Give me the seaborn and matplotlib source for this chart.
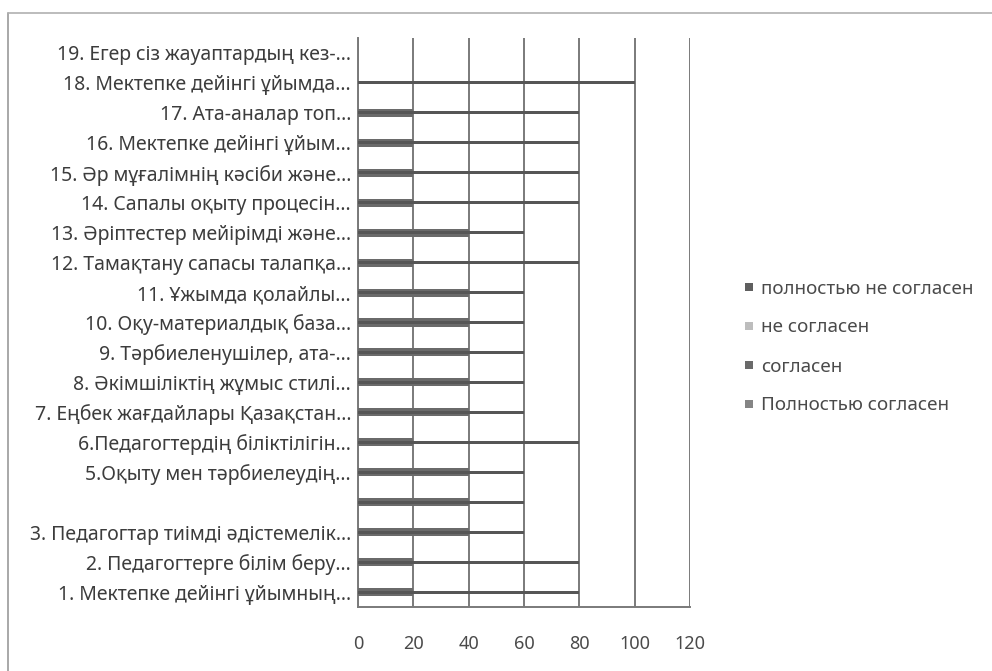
import pandas as pd
import numpy as np
import matplotlib
matplotlib.use("Agg")
import matplotlib.pyplot as plt
from matplotlib.lines import Line2D
import seaborn as sns

# Kategori pertanyaan (1 di bawah, 19 di atas)
pertanyaan = [
    "1. Мектепке дейінгі ұйымның...",
    "2. Педагогтерге білім беру...",
    "3. Педагогтар тиімді әдістемелік...",
    "",
    "5.Оқыту мен тәрбиелеудің...",
    "6.Педагогтердің біліктілігін...",
    "7. Еңбек жағдайлары Қазақстан...",
    "8. Әкімшіліктің жұмыс стилі...",
    "9. Тәрбиеленушілер, ата-...",
    "10. Оқу-материалдық база...",
    "11. Ұжымда қолайлы...",
    "12. Тамақтану сапасы талапқа...",
    "13. Әріптестер мейірімді және...",
    "14. Сапалы оқыту процесін...",
    "15. Әр мұғалімнің кәсіби және...",
    "16. Мектепке дейінгі ұйым...",
    "17. Ата-аналар топ...",
    "18. Мектепке дейінгі ұйымда...",
    "19. Егер сіз жауаптардың кез-...",
]

seri = ["полностью не согласен", "не согласен", "согласен", "Полностью согласен"]
warna = ["#5f5f5f", "#bdbdbd", "#6a6a6a", "#858585"]

polnostyu_ne = [0, 0, 0, 0, 0, 0, 0, 0, 0, 0, 0, 0, 0, 0, 0, 0, 0, 0, 0]
ne_soglasen = [0, 0, 0, 0, 0, 0, 0, 0, 0, 0, 0, 0, 0, 0, 0, 0, 0, 0, 0]
soglasen = [20, 20, 40, 40, 40, 20, 40, 40, 40, 40, 40, 20, 40, 20, 20, 20, 20, 0, 0]
polnostyu = [80, 80, 60, 60, 60, 80, 60, 60, 60, 60, 60, 80, 60, 80, 80, 80, 80, 100, 0]

nilai_x = [0, 20, 40, 60, 80, 100, 120]

baris = []
for nama, nilai in zip(seri, [polnostyu_ne, ne_soglasen, soglasen, polnostyu]):
    for label, v in zip(pertanyaan, nilai):
        baris.append({"label": label, "value": v, "series": nama})
df = pd.DataFrame(baris)

sns.set_style("white")
plt.rcParams["font.family"] = ["Noto Sans", "DejaVu Sans"]

fig = plt.figure(figsize=(9.92, 6.71), dpi=100)
ax = fig.add_axes([358 / 992, 1 - 607 / 671, (690 - 358) / 992, (607 - 38) / 671])

sns.barplot(
    data=df, y="label", x="value", hue="series",
    order=pertanyaan[::-1], hue_order=seri, palette=warna,
    dodge=False, width=0.27, linewidth=0, orient="h",
    legend=False, ax=ax, zorder=3,
)

# seri "Полностью согласен" tampil sebagai batang tipis di atas batang tebal
for patch in ax.containers[3]:
    cy = patch.get_y() + patch.get_height() / 2
    patch.set_height(0.1)
    patch.set_y(cy - 0.05)
    patch.set_facecolor("#565656")

ax.set_xlim(0, 120)
ax.set_xticks(nilai_x)
ax.set_xlabel("")
ax.set_ylabel("")
ax.xaxis.grid(True, color="#7a7a7a", linewidth=1.4, zorder=0)
ax.yaxis.grid(False)

for s in ["top", "right"]:
    ax.spines[s].set_visible(False)
for s in ["left", "bottom"]:
    ax.spines[s].set_color("#7a7a7a")
    ax.spines[s].set_linewidth(1.4)

ax.tick_params(axis="x", length=4, width=1, color="#8a8a8a", pad=16,
               labelsize=13, labelcolor="#4a4a4a")
ax.tick_params(axis="y", length=0, pad=5, labelsize=14, labelcolor="#3c3c3c")
ax.set_yticks(np.arange(-0.5, len(pertanyaan), 1), minor=True)
ax.tick_params(axis="y", which="minor", length=4, width=1, color="#8a8a8a")

handles = [Line2D([], [], marker="s", linestyle="", markersize=6,
                  markerfacecolor=c, markeredgewidth=0) for c in warna]
fig.legend(handles, seri, loc="upper left", bbox_to_anchor=(733 / 992, 1 - 272 / 671),
           frameon=False, fontsize=13.5, labelspacing=1.12, handletextpad=0.2,
           handlelength=0.9, labelcolor="#4a4a4a", borderaxespad=0)

# bingkai luar grafik
fig.add_artist(Line2D([8 / 992, 8 / 992], [0, 1 - 13 / 671], transform=fig.transFigure,
                      color="#9a9a9a", linewidth=1.2))
fig.add_artist(Line2D([8 / 992, 1], [1 - 13 / 671, 1 - 13 / 671], transform=fig.transFigure,
                      color="#b0b0b0", linewidth=1.2))

fig.savefig("out.png", dpi=100)
plt.close(fig)
